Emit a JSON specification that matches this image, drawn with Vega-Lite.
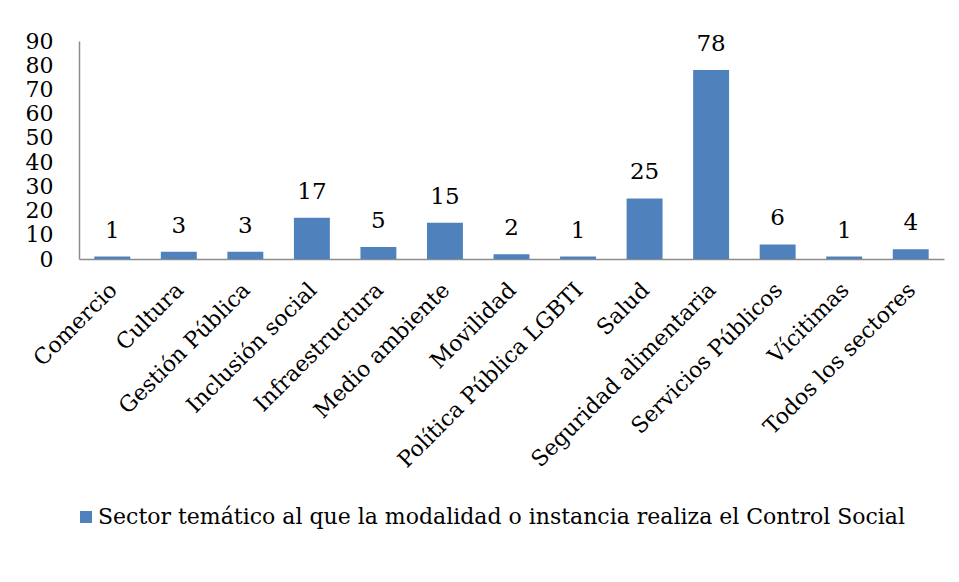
{
  "$schema": "https://vega.github.io/schema/vega-lite/v6.json",
  "width": 865,
  "height": 218,
  "autosize": {"type": "none"},
  "padding": {"left": 79, "top": 41, "right": 15, "bottom": 323},
  "background": "white",
  "config": {
    "view": {"stroke": null},
    "font": "DejaVu Serif",
    "axis": {"labelFont": "DejaVu Serif", "labelColor": "#000000", "grid": false, "ticks": false, "domainColor": "#8c8c8c", "domainWidth": 1.5}
  },
  "data": {
    "values": [
      {"sector": "Comercio", "valor": 1, "serie": "Sector temático al que la modalidad o instancia realiza el Control Social"},
      {"sector": "Cultura", "valor": 3, "serie": "Sector temático al que la modalidad o instancia realiza el Control Social"},
      {"sector": "Gestión Pública", "valor": 3, "serie": "Sector temático al que la modalidad o instancia realiza el Control Social"},
      {"sector": "Inclusión social", "valor": 17, "serie": "Sector temático al que la modalidad o instancia realiza el Control Social"},
      {"sector": "Infraestructura", "valor": 5, "serie": "Sector temático al que la modalidad o instancia realiza el Control Social"},
      {"sector": "Medio ambiente", "valor": 15, "serie": "Sector temático al que la modalidad o instancia realiza el Control Social"},
      {"sector": "Movilidad", "valor": 2, "serie": "Sector temático al que la modalidad o instancia realiza el Control Social"},
      {"sector": "Política Pública LGBTI", "valor": 1, "serie": "Sector temático al que la modalidad o instancia realiza el Control Social"},
      {"sector": "Salud", "valor": 25, "serie": "Sector temático al que la modalidad o instancia realiza el Control Social"},
      {"sector": "Seguridad alimentaria", "valor": 78, "serie": "Sector temático al que la modalidad o instancia realiza el Control Social"},
      {"sector": "Servicios Públicos", "valor": 6, "serie": "Sector temático al que la modalidad o instancia realiza el Control Social"},
      {"sector": "Vícitimas", "valor": 1, "serie": "Sector temático al que la modalidad o instancia realiza el Control Social"},
      {"sector": "Todos los sectores", "valor": 4, "serie": "Sector temático al que la modalidad o instancia realiza el Control Social"}
    ]
  },
  "encoding": {
    "x": {
      "field": "sector",
      "type": "nominal",
      "sort": null,
      "scale": {"paddingInner": 0.46, "paddingOuter": 0.23},
      "axis": {"title": null, "labelAngle": -45, "labelFontSize": 22, "labelPadding": 20, "labelOffset": -6, "labelAlign": "right", "labelBaseline": "top", "labelLimit": 500}
    },
    "y": {
      "field": "valor",
      "type": "quantitative",
      "scale": {"domain": [0, 90], "nice": false},
      "axis": {"title": null, "values": [0,10,20,30,40,50,60,70,80,90], "labelFontSize": 22, "labelPadding": 26, "labelAlign": "right"}
    }
  },
  "layer": [
    {
      "mark": {"type": "bar"},
      "encoding": {
        "color": {
          "field": "serie",
          "type": "nominal",
          "scale": {"range": ["#4F81BD"]},
          "legend": {
            "title": null,
            "orient": "none",
            "legendX": -4,
            "legendY": 465,
            "symbolType": "square",
            "symbolSize": 144,
            "symbolStrokeWidth": 0,
            "labelFont": "DejaVu Serif",
            "labelFontSize": 22,
            "labelColor": "#000000",
            "labelLimit": 1000,
            "symbolOffset": 0,
            "labelOffset": 1
          }
        }
      }
    },
    {
      "mark": {"type": "text", "baseline": "alphabetic", "dy": -19, "fontSize": 23, "font": "DejaVu Serif", "color": "#000000"},
      "encoding": {"text": {"field": "valor", "type": "quantitative"}}
    }
  ]
}
